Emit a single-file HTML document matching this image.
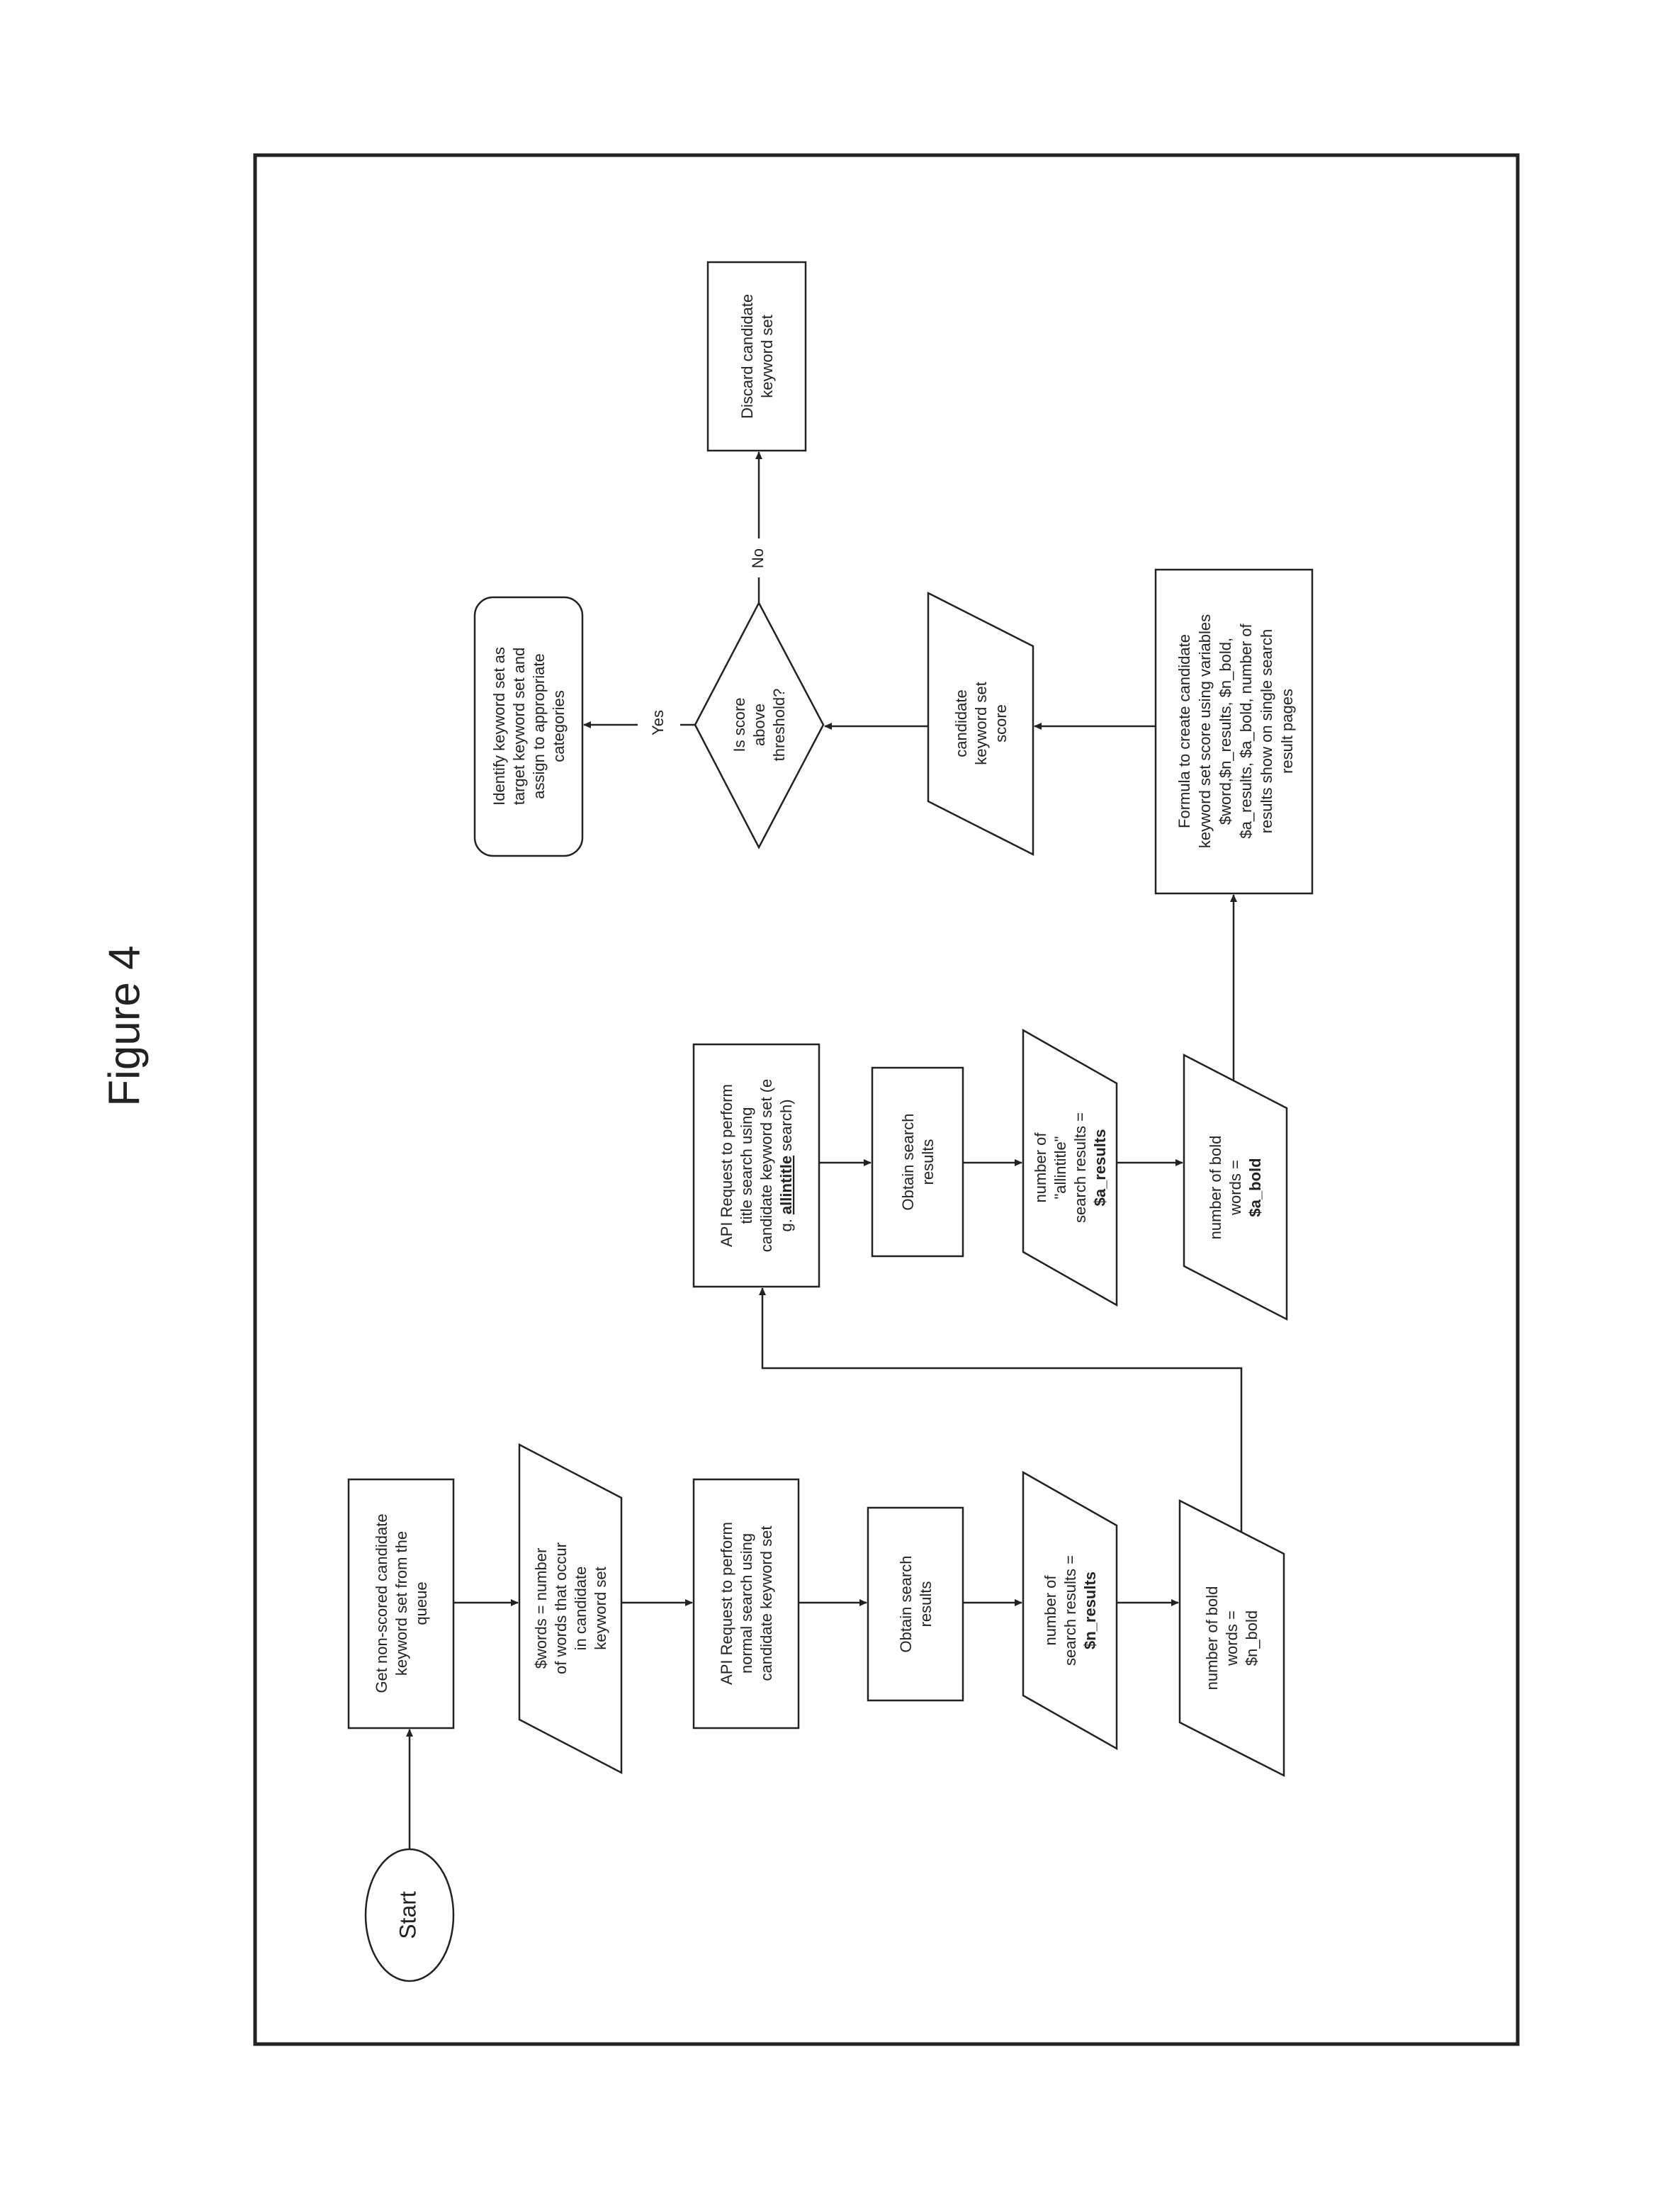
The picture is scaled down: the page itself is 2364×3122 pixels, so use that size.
<!DOCTYPE html>
<html><head><meta charset="utf-8"><style>
html,body{margin:0;padding:0;background:#fff;}
svg{display:block;}
text{font-family:"Liberation Sans",Arial,sans-serif;fill:#222;}
</style></head><body>
<svg width="2364" height="3122" viewBox="0 0 2364 3122" xmlns="http://www.w3.org/2000/svg">
<defs>
<marker id="a" markerWidth="12" markerHeight="12" refX="10" refY="6" orient="auto" markerUnits="userSpaceOnUse">
<path d="M0,1 L11,6 L0,11 Z" fill="#222"/>
</marker>
</defs>
<rect x="0" y="0" width="2364" height="3122" fill="#fff"/>
<text transform="translate(180,1448) rotate(-90)" text-anchor="middle" font-size="62" dominant-baseline="middle">Figure 4</text>
<rect x="360" y="219" width="1782" height="2666" fill="none" stroke="#222" stroke-width="5"/>

<g fill="#fff" stroke="#222" stroke-width="2.5">
<rect x="999" y="370" width="138" height="266"/>
<rect x="670" y="843" width="152" height="365" rx="26"/>
<polygon points="1071,851 1162,1023 1071,1196 981,1023"/>
<polygon points="1310,837 1458,912 1458,1206 1310,1131"/>
<rect x="1631" y="804" width="221" height="457"/>
<ellipse cx="578" cy="2703" rx="62" ry="93"/>
<rect x="492" y="2088" width="148" height="351"/>
<polygon points="733,2039 877,2114 877,2502 733,2427"/>
<rect x="979" y="2088" width="148" height="351"/>
<rect x="1225" y="2128" width="134" height="272"/>
<polygon points="1444,2078 1576,2153 1576,2468 1444,2393"/>
<polygon points="1665,2118 1812,2193 1812,2506 1665,2431"/>
<rect x="979" y="1474" width="177" height="342"/>
<rect x="1231" y="1507" width="128" height="266"/>
<polygon points="1444,1454 1576,1529 1576,1842 1444,1767"/>
<polygon points="1671,1489 1816,1564 1816,1862 1671,1787"/>
</g>

<g stroke="#222" stroke-width="2.5" fill="none" marker-end="url(#a)">
<line x1="578" y1="2610" x2="578" y2="2441"/>
<line x1="640" y1="2262" x2="731" y2="2262"/>
<line x1="877" y1="2262" x2="977" y2="2262"/>
<line x1="1127" y1="2262" x2="1223" y2="2262"/>
<line x1="1359" y1="2262" x2="1442" y2="2262"/>
<line x1="1576" y1="2262" x2="1663" y2="2262"/>
<line x1="1156" y1="1641" x2="1229" y2="1641"/>
<line x1="1359" y1="1641" x2="1442" y2="1641"/>
<line x1="1576" y1="1641" x2="1669" y2="1641"/>
<polyline points="1752,2162 1752,1931 1076,1931 1076,1818"/>
<line x1="1741" y1="1525" x2="1741" y2="1263"/>
<line x1="1631" y1="1025" x2="1460" y2="1025"/>
<line x1="1310" y1="1025" x2="1164" y2="1025"/>
<line x1="900" y1="1023" x2="824" y2="1023"/>
<line x1="1071" y1="760" x2="1071" y2="638"/>
</g>
<g stroke="#222" stroke-width="2.5">
<line x1="981" y1="1023" x2="960" y2="1023"/>
<line x1="1071" y1="851" x2="1071" y2="815"/>
</g>

<g font-size="22" text-anchor="middle">
<text transform="translate(930,1020) rotate(-90)" dominant-baseline="middle">Yes</text>
<text transform="translate(1071,788) rotate(-90)" dominant-baseline="middle">No</text>
<text transform="translate(1068,503) rotate(-90)"><tspan x="0" y="-6">Discard candidate</tspan><tspan x="0" dy="28">keyword set</tspan></text>
<text transform="translate(746,1025) rotate(-90)"><tspan x="0" y="-34">Identify keyword set as</tspan><tspan x="0" dy="28">target keyword set and</tspan><tspan x="0" dy="28">assign to appropriate</tspan><tspan x="0" dy="28">categories</tspan></text>
<text transform="translate(1071,1023) rotate(-90)"><tspan x="0" y="-20">Is score</tspan><tspan x="0" dy="28">above</tspan><tspan x="0" dy="28">threshold?</tspan></text>
<text transform="translate(1384,1021) rotate(-90)"><tspan x="0" y="-20">candidate</tspan><tspan x="0" dy="28">keyword set</tspan><tspan x="0" dy="28">score</tspan></text>
<text transform="translate(1741,1032) rotate(-90)"><tspan x="0" y="-62">Formula to create candidate</tspan><tspan x="0" dy="29">keyword set score using variables</tspan><tspan x="0" dy="29">$word,$n_results, $n_bold,</tspan><tspan x="0" dy="29">$a_results, $a_bold, number of</tspan><tspan x="0" dy="29">results show on single search</tspan><tspan x="0" dy="29">result pages</tspan></text>
<text transform="translate(578,2703) rotate(-90)" font-size="32" dominant-baseline="middle">Start</text>
<text transform="translate(566,2263) rotate(-90)"><tspan x="0" y="-20">Get non-scored candidate</tspan><tspan x="0" dy="28">keyword set from the</tspan><tspan x="0" dy="28">queue</tspan></text>
<text transform="translate(805,2270) rotate(-90)"><tspan x="0" y="-34">$words = number</tspan><tspan x="0" dy="28">of words that occur</tspan><tspan x="0" dy="28">in candidate</tspan><tspan x="0" dy="28">keyword set</tspan></text>
<text transform="translate(1053,2263) rotate(-90)"><tspan x="0" y="-20">API Request to perform</tspan><tspan x="0" dy="28">normal search using</tspan><tspan x="0" dy="28">candidate keyword set</tspan></text>
<text transform="translate(1292,2264) rotate(-90)"><tspan x="0" y="-6">Obtain search</tspan><tspan x="0" dy="28">results</tspan></text>
<text transform="translate(1510,2273) rotate(-90)"><tspan x="0" y="-20">number of</tspan><tspan x="0" dy="28">search results =</tspan><tspan x="0" dy="28" font-weight="bold">$n_results</tspan></text>
<text transform="translate(1738,2312) rotate(-90)"><tspan x="0" y="-20">number of bold</tspan><tspan x="0" dy="28">words =</tspan><tspan x="0" dy="28">$n_bold</tspan></text>
<text transform="translate(1067,1645) rotate(-90)"><tspan x="0" y="-34">API Request to perform</tspan><tspan x="0" dy="28">title search using</tspan><tspan x="0" dy="28">candidate keyword set (e</tspan><tspan x="0" dy="28">g. <tspan font-weight="bold" text-decoration="underline">allintitle</tspan> search)</tspan></text>
<text transform="translate(1295,1640) rotate(-90)"><tspan x="0" y="-6">Obtain search</tspan><tspan x="0" dy="28">results</tspan></text>
<text transform="translate(1510,1648) rotate(-90)"><tspan x="0" y="-34">number of</tspan><tspan x="0" dy="28">"allintitle"</tspan><tspan x="0" dy="28">search results =</tspan><tspan x="0" dy="28" font-weight="bold">$a_results</tspan></text>
<text transform="translate(1743,1676) rotate(-90)"><tspan x="0" y="-20">number of bold</tspan><tspan x="0" dy="28">words =</tspan><tspan x="0" dy="28" font-weight="bold">$a_bold</tspan></text>
</g>
</svg>
</body></html>
